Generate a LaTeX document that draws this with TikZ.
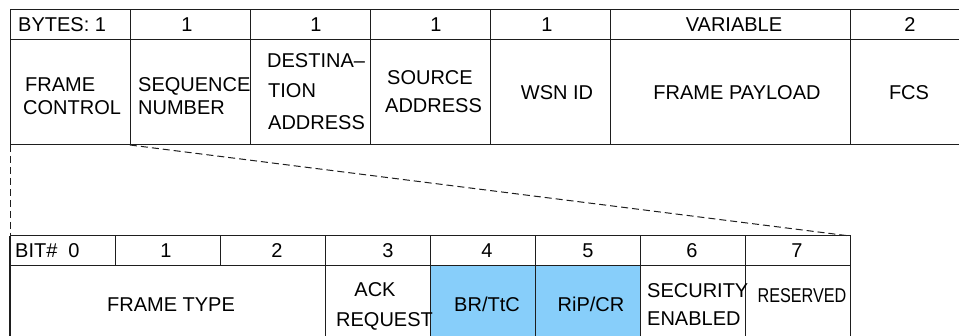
\documentclass[tikz,border=0pt]{standalone}
\usepackage{fontspec}
\setmainfont{Liberation Sans}
\definecolor{cellblue}{RGB}{135,206,250}
\definecolor{rule}{RGB}{30,30,30}
\begin{document}
\begin{tikzpicture}[x=1pt,y=-1pt,
  cell/.style={draw=rule,line width=1pt,anchor=north west,inner sep=0pt,outer sep=0pt,minimum height=#1},
  hdr/.style={cell=30pt},
  body/.style={cell=105pt},
  bbody/.style={cell=90pt},
  lbl/.style={inner sep=0pt,font=\fontsize{20}{24}\selectfont},
  callout/.style={draw=rule,line width=1pt,dash pattern=on 7pt off 4pt}]
\useasboundingbox (0,0) rectangle (959,336);
\clip (0,0) rectangle (959,336);
% top table: header row
\node[hdr,minimum width=120pt] (h0) at (10,10) {};
\node[hdr,minimum width=120pt] (h1) at (130,10) {};
\node[hdr,minimum width=120pt] (h2) at (250,10) {};
\node[hdr,minimum width=120pt] (h3) at (370,10) {};
\node[hdr,minimum width=120pt] (h4) at (490,10) {};
\node[hdr,minimum width=240pt] (h5) at (610,10) {};
\node[hdr,minimum width=125pt] (h6) at (850,10) {};
% top table: field row
\node[body,minimum width=120pt] (fc) at (10,40) {};
\node[body,minimum width=120pt] (sn) at (130,40) {};
\node[body,minimum width=120pt] (da) at (250,40) {};
\node[body,minimum width=120pt] (sa) at (370,40) {};
\node[body,minimum width=120pt] (wi) at (490,40) {};
\node[body,minimum width=240pt] (fp) at (610,40) {};
\node[body,minimum width=125pt] (fcs) at (850,40) {};
% top header texts
\node[lbl,anchor=base west] (th0) at (18,32) {BYTES: 1};
\node[lbl,anchor=base] (th1) at (187,32) {1};
\node[lbl,anchor=base] (th2) at (316,32) {1};
\node[lbl,anchor=base] (th3) at (436,32) {1};
\node[lbl,anchor=base] (th4) at (547,32) {1};
\node[lbl,anchor=base] (th5) at (734,32) {VARIABLE};
\node[lbl,anchor=base] (th6) at (910,32) {2};
% top field texts
\node[lbl,anchor=base west] (tfa) at (25,92) {FRAME};
\node[lbl,anchor=base west] (tfb) at (23,115) {CONTROL};
\node[lbl,anchor=base west] (tsa) at (138,92) {SEQUENCE};
\node[lbl,anchor=base west] (tsb) at (138,115) {NUMBER};
\node[lbl,anchor=base west] (tda) at (267,68) {DESTINA--};
\node[lbl,anchor=base west] (tdb) at (268,98) {TION};
\node[lbl,anchor=base west] (tdc) at (268,130) {ADDRESS};
\node[lbl,anchor=base west] (tsc) at (387,85) {SOURCE};
\node[lbl,anchor=base west] (tsd) at (385,113) {ADDRESS};
\node[lbl,anchor=base] (tw) at (557,100) {WSN ID};
\node[lbl,anchor=base] (tp) at (737,100) {FRAME PAYLOAD};
\node[lbl,anchor=base] (tc) at (909,100) {FCS};
% bottom table: header row
\node[hdr,minimum width=105pt] (b0) at (10,236) {};
\node[hdr,minimum width=105pt] (b1) at (115,236) {};
\node[hdr,minimum width=105pt] (b2) at (220,236) {};
\node[hdr,minimum width=105pt] (b3) at (325,236) {};
\node[hdr,minimum width=105pt] (b4) at (430,236) {};
\node[hdr,minimum width=105pt] (b5) at (535,236) {};
\node[hdr,minimum width=105pt] (b6) at (640,236) {};
\node[hdr,minimum width=105pt] (b7) at (745,236) {};
% bottom table: field row
\node[bbody,minimum width=315pt] (ft) at (10,266) {};
\node[bbody,minimum width=105pt] (ak) at (325,266) {};
\node[bbody,minimum width=105pt,fill=cellblue] (br) at (430,266) {};
\node[bbody,minimum width=105pt,fill=cellblue] (rp) at (535,266) {};
\node[bbody,minimum width=105pt] (se) at (640,266) {};
\node[bbody,minimum width=105pt] (rs) at (745,266) {};
\draw[rule,line width=2pt] (b0.north west) -- (ft.south west);
% bottom header texts
\node[lbl,anchor=base west] (bh0) at (15,258) {BIT\#};
\node[lbl,anchor=base] (bh0n) at (74,258) {0};
\node[lbl,anchor=base] (bh1) at (166,258) {1};
\node[lbl,anchor=base] (bh2) at (277,258) {2};
\node[lbl,anchor=base] (bh3) at (388,258) {3};
\node[lbl,anchor=base] (bh4) at (487,258) {4};
\node[lbl,anchor=base] (bh5) at (588,258) {5};
\node[lbl,anchor=base] (bh6) at (692,258) {6};
\node[lbl,anchor=base] (bh7) at (797,258) {7};
% bottom field texts
\node[lbl,anchor=base] (bft) at (171,312) {FRAME TYPE};
\node[lbl,anchor=base] (bak1) at (375,297) {ACK};
\node[lbl,anchor=base west] (bak2) at (336,327) {REQUEST};
\node[lbl,anchor=base] (bbr) at (487,312) {BR/TtC};
\node[lbl,anchor=base] (brp) at (591,312) {RiP/CR};
\node[lbl,anchor=base west] (bse1) at (647,298) {SECURITY};
\node[lbl,anchor=base west] (bse2) at (647,326) {ENABLED};
\node[lbl,anchor=base,xscale=0.81] (brs) at (802,303) {RESERVED};
% callout lines
\draw[callout] (fc.south west) -- (b0.north west);
\draw[callout] (fc.south east) -- (b7.north east);
\end{tikzpicture}
\end{document}
